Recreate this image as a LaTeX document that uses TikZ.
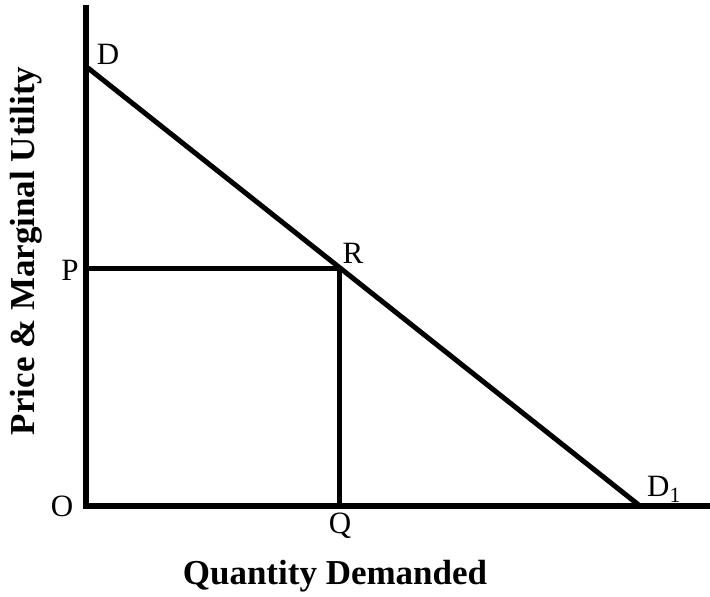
\documentclass[tikz,border=0pt]{standalone}
\usepackage{fontspec}
\setmainfont{Liberation Serif}
\begin{document}
\begin{tikzpicture}[x=1pt,y=-1pt,
  axis/.style={line width=5.5pt,line cap=rect},
  curve/.style={line width=5pt},
  lbl/.style={inner sep=0pt,font=\fontsize{31}{34}\selectfont},
  ttl/.style={inner sep=0pt,font=\fontsize{35}{40}\selectfont\bfseries}]
\useasboundingbox (0,0) rectangle (710,597);
\coordinate (top) at (86,8);
\coordinate (O) at (86,506);
\coordinate (end) at (710,506);
\coordinate (Dp) at (88,68);
\coordinate (D1p) at (640,506);
\coordinate (Rp) at (339,268);
\coordinate (Pp) at (86,268);
\coordinate (Qp) at (339,506);
\draw[axis] (top) -- (O) -- (end);
\draw[curve] (Dp) -- (D1p);
\draw[curve] (Pp) -- (Rp) -- (Qp);
\node[lbl] (lD) at (108,54) {D};
\node[lbl] (lP) at (70,270) {P};
\node[lbl] (lR) at (353,253) {R};
\node[lbl] (lO) at (62,506) {O};
\node[lbl] (lQ) at (340,526) {Q};
\node[lbl] (lD1) at (664,489) {D\textsubscript{1}};
\node[ttl] (xt) at (335,576) {Quantity Demanded};
\node[ttl,rotate=90] (yt) at (26,251) {Price \& Marginal Utility};
\end{tikzpicture}
\end{document}
